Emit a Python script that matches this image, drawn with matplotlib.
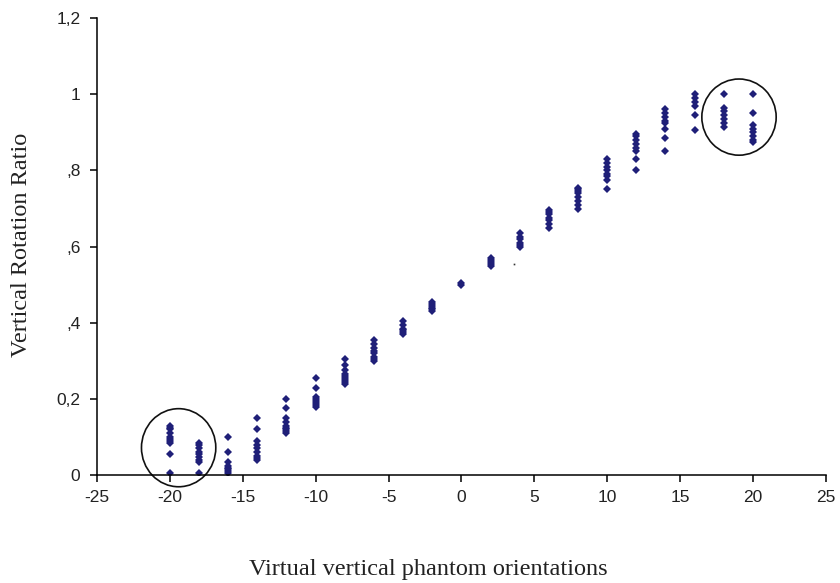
import matplotlib
matplotlib.use("Agg")
import matplotlib.pyplot as plt
from matplotlib.patches import Ellipse

# Orientation (degrees) and the measured vertical rotation ratios at each one
orientations = [-20, -18, -16, -14, -12, -10, -8, -6, -4, -2, 0,
                2, 4, 6, 8, 10, 12, 14, 16, 18, 20]
ratios = [
    [0.13, 0.125, 0.12, 0.11, 0.10, 0.095, 0.09, 0.085, 0.055, 0.005],
    [0.085, 0.078, 0.07, 0.062, 0.055, 0.048, 0.04, 0.035, 0.005],
    [0.10, 0.06, 0.035, 0.025, 0.02, 0.015, 0.01, 0.005],
    [0.15, 0.12, 0.09, 0.08, 0.07, 0.06, 0.05, 0.045, 0.04],
    [0.20, 0.175, 0.15, 0.14, 0.13, 0.125, 0.12, 0.115, 0.11],
    [0.255, 0.23, 0.205, 0.20, 0.195, 0.19, 0.185, 0.18],
    [0.305, 0.29, 0.275, 0.265, 0.26, 0.255, 0.25, 0.245, 0.24],
    [0.355, 0.345, 0.335, 0.325, 0.32, 0.31, 0.305, 0.30],
    [0.405, 0.395, 0.385, 0.38, 0.375, 0.37],
    [0.455, 0.45, 0.445, 0.44, 0.435, 0.43],
    [0.505, 0.50],
    [0.57, 0.565, 0.56, 0.555, 0.55],
    [0.635, 0.625, 0.62, 0.61, 0.605, 0.60],
    [0.695, 0.69, 0.685, 0.675, 0.67, 0.66, 0.65],
    [0.755, 0.75, 0.745, 0.74, 0.73, 0.72, 0.71, 0.70],
    [0.83, 0.82, 0.81, 0.80, 0.79, 0.785, 0.775, 0.75],
    [0.895, 0.89, 0.88, 0.87, 0.86, 0.85, 0.83, 0.80],
    [0.96, 0.95, 0.94, 0.93, 0.925, 0.91, 0.885, 0.85],
    [1.00, 0.99, 0.98, 0.97, 0.945, 0.905],
    [1.00, 0.965, 0.955, 0.945, 0.935, 0.925, 0.915],
    [1.00, 0.95, 0.92, 0.91, 0.90, 0.89, 0.88, 0.875],
]
# lone speck in the original picture
stray_x = [3.6]
stray_y = [0.554]

x_ticks = [-25, -20, -15, -10, -5, 0, 5, 10, 15, 20, 25]
y_ticks = [0, 0.2, 0.4, 0.6, 0.8, 1.0, 1.2]
y_tick_labels = ["0", "0,2", ",4", ",6", ",8", "1", "1,2"]

MARKER_COLOR = "#1f1f78"

fig = plt.figure(figsize=(8.4, 5.83), dpi=100)
ax = fig.add_axes([0.1155, 0.185, 0.8675, 0.784])

xs = [x for x, vals in zip(orientations, ratios) for _ in vals]
ys = [v for vals in ratios for v in vals]
ax.plot(xs, ys, linestyle="none", marker="D", markersize=3.8,
        color=MARKER_COLOR, markeredgewidth=0)
ax.plot(stray_x, stray_y, linestyle="none", marker="s", markersize=1.2,
        color="#333333", markeredgewidth=0)

# hand-drawn circles highlighting the extreme orientations
for cx, cy, w, h in [(-19.4, 0.072, 5.1, 0.205), (19.05, 0.94, 5.1, 0.2)]:
    ax.add_patch(Ellipse((cx, cy), w, h, fill=False, edgecolor="#111111",
                         linewidth=1.2, clip_on=False))

ax.set_xlim(-25, 25)
ax.set_ylim(0, 1.2)
ax.set_xticks(x_ticks)
ax.set_xticklabels([str(t) for t in x_ticks])
ax.set_yticks(y_ticks)
ax.set_yticklabels(y_tick_labels)

for side in ("top", "right"):
    ax.spines[side].set_visible(False)
for side in ("left", "bottom"):
    ax.spines[side].set_linewidth(1.1)

ax.tick_params(direction="out", length=5, width=1.1, colors="black",
               labelsize=12.5)
ax.tick_params(axis="x", pad=6)
ax.tick_params(axis="y", pad=7)
for lab in ax.get_xticklabels() + ax.get_yticklabels():
    lab.set_family("Liberation Sans")
    lab.set_color("#222222")

fig.text(428 / 840, 1 - 570 / 583, "Virtual vertical phantom orientations",
         ha="center", va="center", fontsize=17.5, family="Liberation Serif",
         color="#222222")
fig.text(22 / 840, 1 - 245 / 583, "Vertical Rotation Ratio", rotation=90,
         ha="center", va="center", fontsize=17.5, family="Liberation Serif",
         color="#222222")

fig.savefig("out.png", dpi=100)
